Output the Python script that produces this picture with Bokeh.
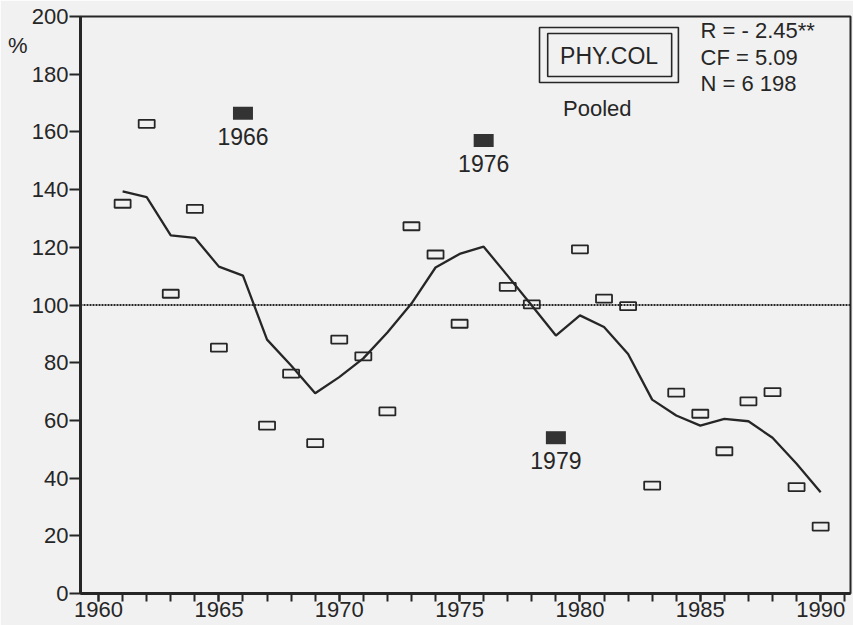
from bokeh.plotting import figure
from bokeh.models import (Range1d, FixedTicker, Label, BoxAnnotation, Span,
                          ColumnDataSource, LinearAxis)
from bokeh.core.properties import value
from bokeh.embed import file_html
from bokeh.resources import INLINE

# ---- data ----
years = list(range(1961, 1991))
index_pct = [135.1, 162.8, 103.9, 133.3, 85.2, 166.5, 58.2, 76.2, 52.1, 88.0,
             82.2, 63.1, 127.3, 117.5, 93.5, 157.0, 106.3, 100.2, 54.0, 119.3,
             102.2, 99.6, 37.4, 69.6, 62.3, 49.3, 66.6, 69.8, 36.9, 23.2]
trend_pct = [139.4, 137.4, 124.1, 123.3, 113.3, 110.2, 88.0, 79.0, 69.4, 75.0,
             81.5, 90.5, 100.5, 113.0, 117.7, 120.2, 110.1, 99.8, 89.4, 96.4,
             92.4, 83.0, 67.2, 61.7, 58.2, 60.5, 59.7, 54.0, 45.0, 35.1]
highlight_years = [1966, 1976, 1979]
reference_level = 100
y_ticks = list(range(0, 201, 20))
x_major_ticks = list(range(1960, 1991, 5))
x_minor_ticks = list(range(1960, 1992))
unit_label = "%"
unit_label_level = 190
series_name = "PHY.COL"
subtitle = "Pooled"
stats_lines = ["R = - 2.45**", "CF = 5.09", "N = 6 198"]

# ---- styling ----
FONT = "Liberation Sans"
INK = "#262626"
BG = "#f1f1f1"
FS = "22px"
FS_BIG = "23px"

open_src = ColumnDataSource(dict(
    year=[y for y in years if y not in highlight_years],
    pct=[v for y, v in zip(years, index_pct) if y not in highlight_years]))
hl_src = ColumnDataSource(dict(
    year=[y for y in years if y in highlight_years],
    pct=[v for y, v in zip(years, index_pct) if y in highlight_years],
    label=[str(y) for y in years if y in highlight_years]))
trend_src = ColumnDataSource(dict(year=years, pct=trend_pct))

p = figure(width=853, height=625, output_backend="svg", toolbar_location=None,
           x_range=Range1d(1959.25, 1991.24), y_range=Range1d(0, 200),
           min_border_left=80, min_border_right=3, min_border_top=16, min_border_bottom=32)
p.background_fill_color = BG
p.border_fill_color = BG
p.outline_line_color = INK
p.outline_line_width = 2
p.grid.visible = False

# axes
for ax in (p.xaxis[0], p.yaxis[0]):
    ax.axis_line_color = INK
    ax.axis_line_width = 3
    ax.major_tick_line_color = INK
    ax.major_tick_line_width = 2
    ax.major_tick_in = 0
    ax.major_label_text_font = FONT
    ax.major_label_text_font_size = FS
    ax.major_label_text_color = INK
p.yaxis.ticker = FixedTicker(ticks=y_ticks)
p.yaxis.major_tick_out = 11
p.yaxis.major_label_standoff = 1
p.yaxis.minor_tick_line_color = None
p.xaxis.ticker = FixedTicker(ticks=x_major_ticks, minor_ticks=x_minor_ticks)
p.xaxis.major_tick_out = 8
p.xaxis.minor_tick_out = 8
p.xaxis.minor_tick_in = 0
p.xaxis.minor_tick_line_color = INK
p.xaxis.minor_tick_line_width = 2
p.xaxis.major_label_standoff = 0

# "%" unit label as an extra, tick-less left axis
unit_axis = LinearAxis(ticker=FixedTicker(ticks=[unit_label_level]),
                       major_label_overrides={unit_label_level: unit_label},
                       axis_line_color=None, major_tick_line_color=None,
                       minor_tick_line_color=None, major_tick_out=0, major_tick_in=0,
                       major_label_standoff=1, major_label_text_font=FONT,
                       major_label_text_font_size=FS, major_label_text_color=INK)
p.add_layout(unit_axis, "left")

# reference line at 100 %
p.add_layout(Span(location=reference_level, dimension="width", line_color=INK,
                  line_width=2, line_dash="2 1"))

# trend line
p.line("year", "pct", source=trend_src, line_color=INK, line_width=2.3)

# yearly values
p.rect("year", "pct", source=open_src, width=16, height=8, width_units="screen",
       height_units="screen", fill_alpha=0, line_color=INK, line_width=1.8)
p.rect("year", "pct", source=hl_src, width=20, height=13, width_units="screen",
       height_units="screen", fill_color="#333333", line_color=None)
p.text("year", "pct", text="label", source=hl_src, y_offset=23, text_align="center",
       text_baseline="alphabetic", text_font=value(FONT), text_font_size=FS_BIG,
       text_color=INK)

# legend-like double box
p.add_layout(BoxAnnotation(left=1978.32, right=1984.09, bottom=177.1, top=196.2,
                           fill_alpha=0, line_color=INK, line_alpha=1, line_width=1.6))
p.add_layout(BoxAnnotation(left=1978.66, right=1983.81, bottom=179.2, top=194.1,
                           fill_alpha=0, line_color=INK, line_alpha=1, line_width=1.6))
p.add_layout(Label(x=1981.21, y=186.3, text=series_name, text_align="center",
                   text_baseline="alphabetic", text_font=FONT, text_font_size=FS_BIG,
                   text_color=INK))
p.add_layout(Label(x=1980.72, y=168.0, text=subtitle, text_align="center",
                   text_baseline="alphabetic", text_font=FONT, text_font_size=FS, text_color=INK))
for i, line in enumerate(stats_lines):
    p.add_layout(Label(x=1985.01, y=195.0 - i * 9.1, text=line, text_align="left",
                       text_baseline="alphabetic", text_font=FONT, text_font_size=FS,
                       text_color=INK))

open("out.html", "w").write(file_html(p, INLINE))
